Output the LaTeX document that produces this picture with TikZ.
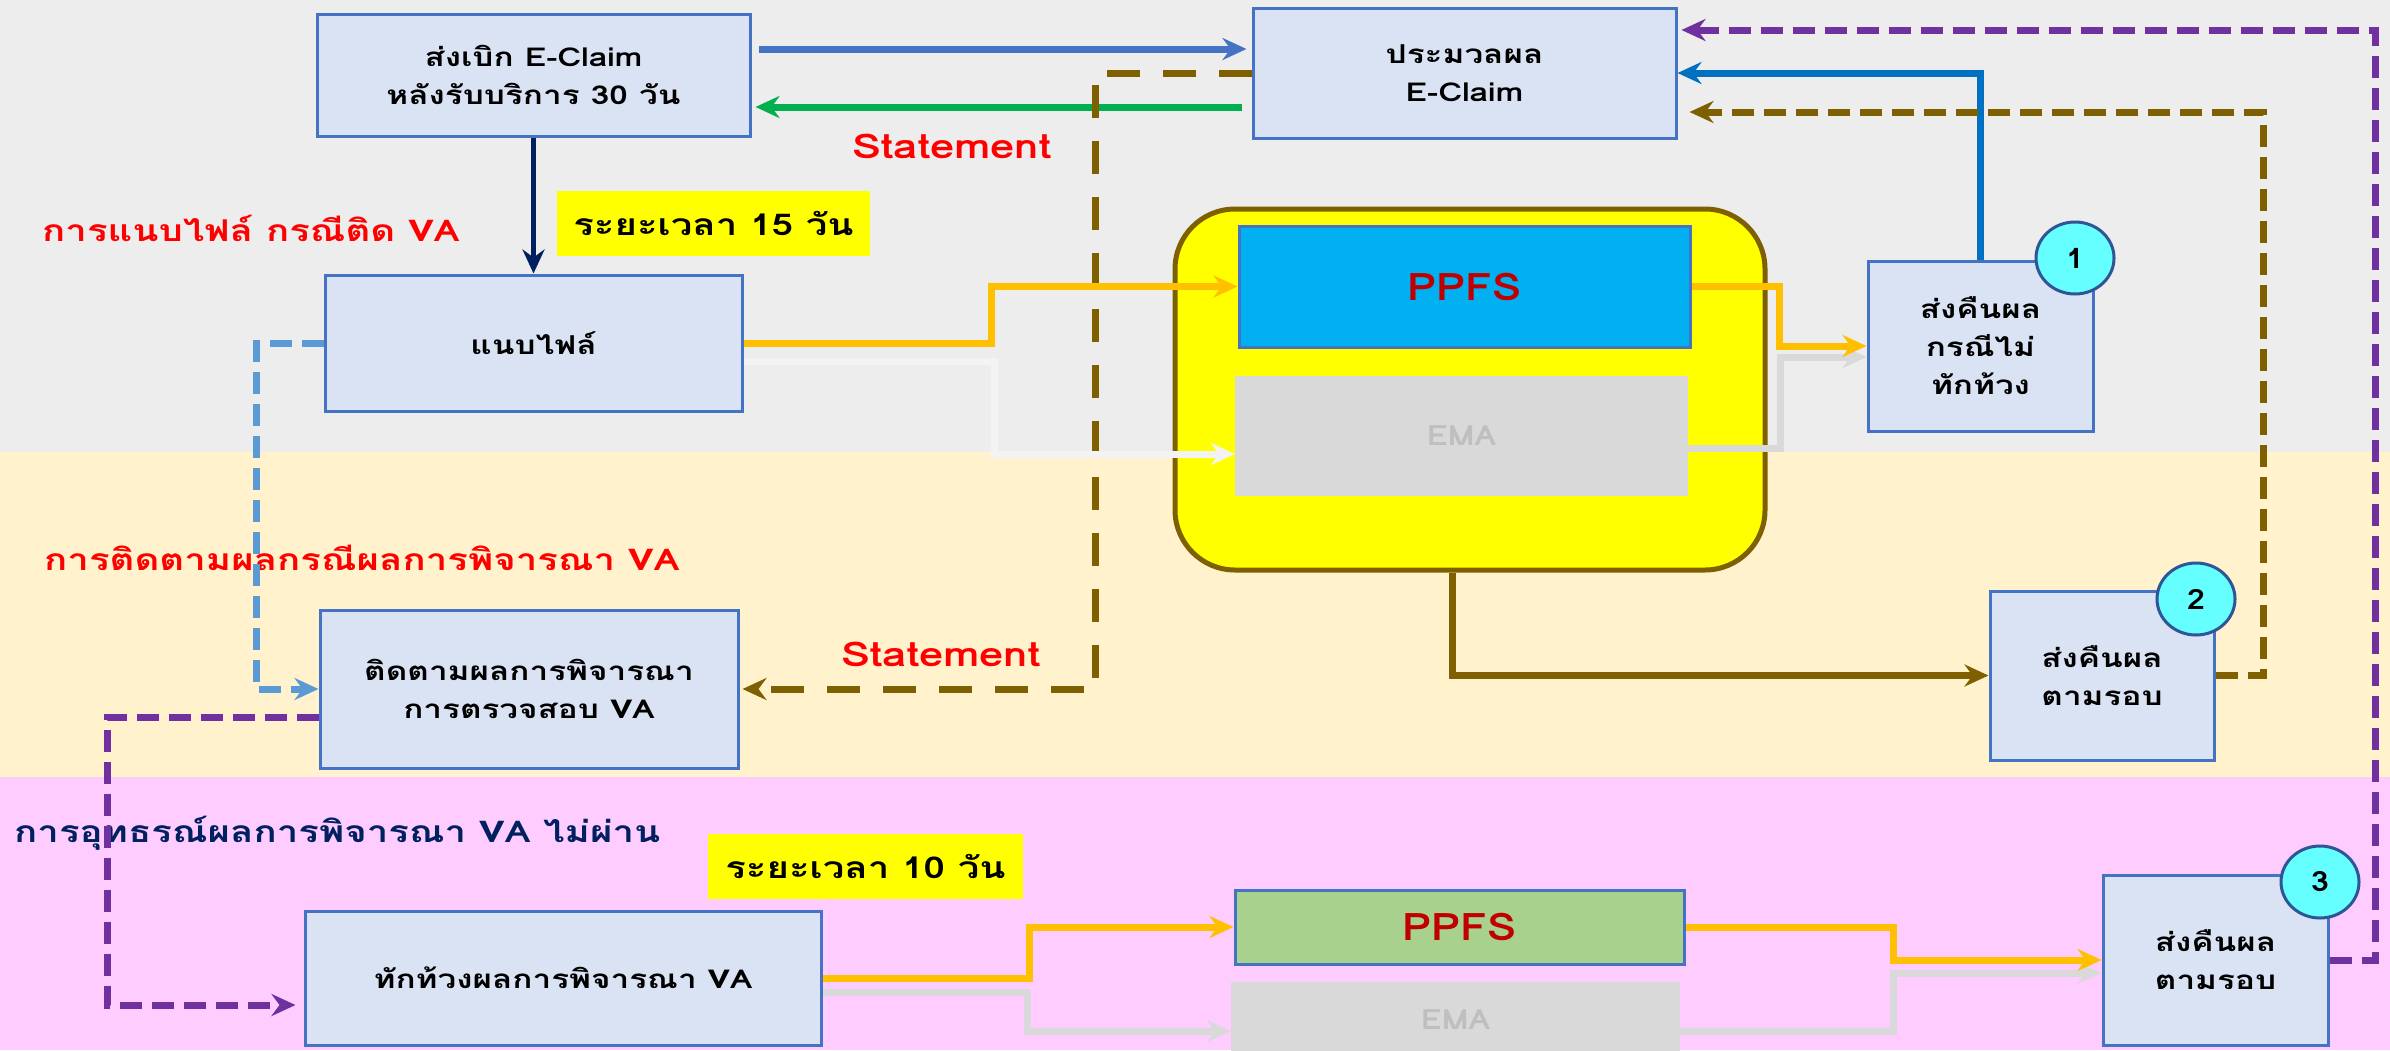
\documentclass[tikz,border=0pt]{standalone}
\usepackage{fontspec}
\newfontfamily\thaifont[Script=Thai,FakeStretch=1.28]{Loma}
\newfontfamily\tagfont[FakeStretch=1.15]{Loma}
\usetikzlibrary{arrows.meta,shapes.geometric}
\definecolor{bandgray}{HTML}{EDEDED}
\definecolor{bandcream}{HTML}{FFF2CC}
\definecolor{bandpink}{HTML}{FFCCFF}
\definecolor{boxfill}{HTML}{DAE3F3}
\definecolor{boxline}{HTML}{4472C4}
\definecolor{brownline}{HTML}{7F6000}
\definecolor{orangeline}{HTML}{FFC000}
\definecolor{greenline}{HTML}{00B050}
\definecolor{navyline}{HTML}{002060}
\definecolor{blueline}{HTML}{0070C0}
\definecolor{skyline}{HTML}{5B9BD5}
\definecolor{purpleline}{HTML}{7030A0}
\definecolor{grayline}{HTML}{D9D9D9}
\definecolor{paleline}{HTML}{F3F3F3}
\definecolor{ppfsblue}{HTML}{00B0F0}
\definecolor{ppfsgreen}{HTML}{A9D18E}
\definecolor{ppfsred}{HTML}{C00000}
\definecolor{emagray}{HTML}{BFBFBF}
\definecolor{badgefill}{HTML}{66FFFF}
\definecolor{badgeline}{HTML}{2F5597}
\definecolor{pillyellow}{HTML}{FFFF00}
\begin{document}
\begin{tikzpicture}[x=1pt, y=-1pt,
    >={Stealth[length=24pt, width=22pt, inset=8pt]},
    box/.style={draw=boxline, line width=3pt, fill=boxfill, align=center,
      font=\thaifont\bfseries\fontsize{26}{38}\selectfont},
    sysdash/.style={dash pattern=on 22pt off 10pt},
    longdash/.style={dash pattern=on 33pt off 23pt},
    flow/.style={line width=7pt, ->},
    bandtitle/.style={anchor=west, inner sep=0pt, font=\thaifont\bfseries\fontsize{30}{36}\selectfont},
    stmt/.style={text=red, font=\thaifont\bfseries\fontsize{34}{40}\selectfont},
    waitbox/.style={fill=pillyellow, font=\thaifont\bfseries\fontsize{30}{36}\selectfont},
    badge/.style={ellipse, draw=badgeline, line width=3pt, fill=badgefill, minimum width=78pt,
      minimum height=72pt, inner sep=0pt, font=\tagfont\bfseries\fontsize{28}{30}\selectfont}]
	\clip (0,0) rectangle (2390,1050);
	\fill[bandgray] (0,0) rectangle (2390,452);
	\fill[bandcream] (0,452) rectangle (2390,777);
	\fill[bandpink] (0,777) rectangle (2390,1050);
	% band titles
	\node[bandtitle, text=red] (t1) at (42,228) {การแนบไฟล์ กรณีติด VA};
	\node[bandtitle, text=red] (t2) at (44,558) {การติดตามผลกรณีผลการพิจารณา VA};
	\node[bandtitle, text=navyline] (t3) at (14,833) {การอุทธรณ์ผลการพิจารณา VA ไม่ผ่าน};
	\node[waitbox, minimum width=313pt, minimum height=65pt] (wait15) at (713.5,223.5) {ระยะเวลา 15 วัน};
	\node[waitbox, minimum width=315pt, minimum height=65pt] (wait10) at (865.5,866.5) {ระยะเวลา 10 วัน};
	\node[stmt] (stmt1) at (952,146) {Statement};
	\node[stmt] (stmt2) at (941,654) {Statement};
	% boxes
	\node[box, minimum width=433pt, minimum height=122pt] (eclaim) at (533.5,75) {ส่งเบิก E-Claim\\หลังรับบริการ 30 วัน};
	\node[box, minimum width=423pt, minimum height=130pt] (proc) at (1464.5,73) {ประมวลผล\\E-Claim};
	\node[box, minimum width=417pt, minimum height=136pt] (attach) at (533.5,343) {แนบไฟล์};
	\node[box, minimum width=418pt, minimum height=158pt] (follow) at (529,689) {ติดตามผลการพิจารณา\\การตรวจสอบ VA};
	\node[box, minimum width=516pt, minimum height=134pt] (appeal) at (563,978) {ทักท้วงผลการพิจารณา VA};
	\node[box, minimum width=225pt, minimum height=170pt] (ret1) at (1980.5,346) {ส่งคืนผล\\กรณีไม่\\ทักท้วง};
	\node[box, minimum width=224pt, minimum height=169pt] (ret2) at (2102,675.5) {ส่งคืนผล\\ตามรอบ};
	\node[box, minimum width=225pt, minimum height=170pt] (ret3) at (2215.5,960) {ส่งคืนผล\\ตามรอบ};
	\foreach \k/\cx/\cy in {1/2075/258, 2/2196/599, 3/2320/882}
	\node[badge] (badge\k) at (\cx,\cy) {\k};
	% PPFS / EMA
	\node[draw=brownline, line width=5pt, fill=pillyellow, rounded corners=60pt, minimum width=590pt, minimum height=361pt] (pill) at (1470,389.5) {};
	\node[draw=boxline, line width=3pt, fill=ppfsblue, text=ppfsred, minimum width=451pt, minimum height=121pt, font=\tagfont\bfseries\fontsize{38}{40}\selectfont] (ppfs) at (1464.5,286.5) {PPFS};
	\node[fill=grayline, text=emagray, minimum width=453pt, minimum height=120pt, font=\tagfont\bfseries\fontsize{28}{30}\selectfont] (ema) at (1461.5,436) {EMA};
	\node[draw=boxline, line width=3pt, fill=ppfsgreen, text=ppfsred, minimum width=449pt, minimum height=74pt, font=\tagfont\bfseries\fontsize{38}{40}\selectfont] (ppfs2) at (1459.5,927) {PPFS};
	\node[fill=grayline, text=emagray, minimum width=449pt, minimum height=76pt, font=\tagfont\bfseries\fontsize{28}{30}\selectfont] (ema2) at (1455.5,1020) {EMA};
	% connectors
	\draw[flow, greenline, shorten <=10pt, shorten >=4pt] ([yshift=-32pt]eclaim.east -| proc.west) -- ([yshift=-32pt]eclaim.east);
	\draw[flow, boxline, shorten <=7pt, shorten >=5pt] ([yshift=26pt]eclaim.east) -- ([yshift=26pt]eclaim.east -| proc.west);
	\draw[line width=5pt, navyline, ->] (eclaim.south) -- (attach.north);
	\draw[flow, brownline, longdash, shorten >=3pt] (proc.west) -- (1095,73) |- (follow.east);
	\draw[flow, paleline] ([yshift=-18pt]attach.east) -- (994,361) |- ([yshift=-18pt]ema.west);
	\draw[flow, orangeline] (attach.east) -- (991,343) |- (ppfs.west);
	\draw[flow, grayline] ([yshift=-12pt]ema.east) -- (1780,448) |- ([yshift=-11pt]ret1.west);
	\draw[flow, orangeline] (ppfs.east) -- (1779,286.5) |- (ret1.west);
	\draw[flow, blueline] (ret1.north) |- (proc.east);
	\draw[flow, brownline] ([xshift=-18pt]pill.south) |- (ret2.west);
	\draw[flow, brownline, sysdash, shorten >=12pt] (ret2.east) -- (2263,675.5) |- ([yshift=-39pt]proc.east);
	\draw[flow, purpleline, sysdash, shorten >=4pt] (ret3.east) -- (2375,960) |- ([yshift=43pt]proc.east);
	\draw[flow, skyline, sysdash] (attach.west) -- (256,343) |- (follow.west);
	\draw[flow, purpleline, sysdash, shorten >=8pt] ([yshift=-28pt]follow.west) -- (107,717) |- ([yshift=-27pt]appeal.west);
	\draw[flow, grayline] ([yshift=-14pt]appeal.east) -- (1027,992) |- ([yshift=-11pt]ema2.west);
	\draw[flow, orangeline] (appeal.east) -- (1029,978) |- (ppfs2.west);
	\draw[flow, grayline] ([yshift=-11pt]ema2.east) -- (1893,1031) |- ([yshift=-13pt]ret3.west);
	\draw[flow, orangeline] (ppfs2.east) -- (1893,927) |- (ret3.west);
\end{tikzpicture}
\end{document}
